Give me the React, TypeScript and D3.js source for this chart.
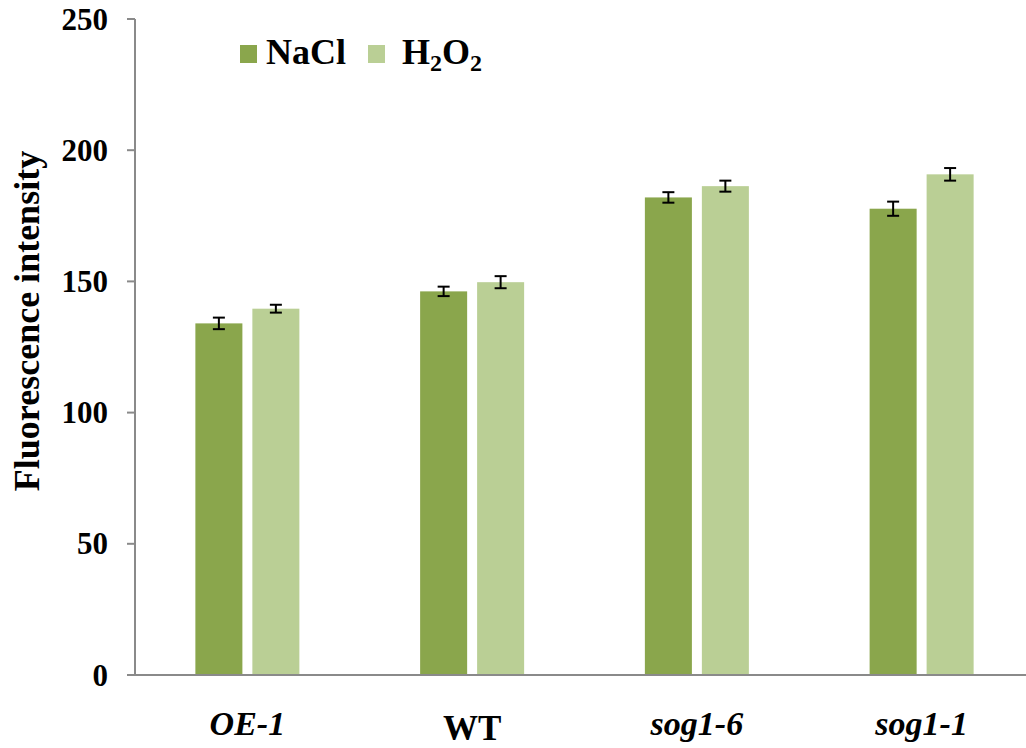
import * as d3 from "d3";

const categories = ["OE-1", "WT", "sog1-6", "sog1-1"];
const series = ["NaCl", "H2O2"];
const naclValues = [134.0, 146.2, 182.0, 177.7];
const h2o2Values = [139.6, 149.7, 186.3, 190.8];
const naclErrors = [2.2, 1.8, 2.0, 2.7];
const h2o2Errors = [1.5, 2.3, 2.1, 2.4];
const yTicks = [0, 50, 100, 150, 200, 250];

const colors = ["#8aa64c", "#bacf95"];
const serif = "'Liberation Serif', 'Times New Roman', serif";

const App = () => {
  const width = 1026;
  const height = 748;

  const y = d3.scaleLinear().domain([0, 250]).range([675, 19]);
  const x0 = d3.scaleBand().domain(categories).range([135, 1034]);
  const bw = x0.bandwidth();
  const x1 = d3
    .scaleBand()
    .domain(series)
    .range([bw / 2 - 52, bw / 2 + 52])
    .paddingInner(0.175);

  const values = [naclValues, h2o2Values];
  const errors = [naclErrors, h2o2Errors];

  // flatten into bar records
  const bars = categories.flatMap((c, i) =>
    series.map((s, j) => ({
      cat: c,
      ser: s,
      value: values[j][i],
      err: errors[j][i],
      color: colors[j],
    }))
  );

  const axisColor = "#8a8a8a";

  return (
    <svg
      width={width}
      height={height}
      style={{ position: "absolute", left: 0, top: 0, background: "#fff" }}
    >
      {/* bars */}
      {bars.map((d) => {
        const bx = x0(d.cat)! + x1(d.ser)!;
        return (
          <rect
            key={d.cat + d.ser}
            x={bx}
            y={y(d.value)}
            width={x1.bandwidth()}
            height={y(0) - y(d.value)}
            fill={d.color}
          />
        );
      })}

      {/* error bars */}
      {bars.map((d) => {
        const cx = x0(d.cat)! + x1(d.ser)! + x1.bandwidth() / 2;
        const top = y(d.value + d.err);
        const bot = y(d.value - d.err);
        return (
          <g key={"e" + d.cat + d.ser} stroke="#000" strokeWidth={2}>
            <line x1={cx} x2={cx} y1={top} y2={bot} />
            <line x1={cx - 6} x2={cx + 6} y1={top} y2={top} />
            <line x1={cx - 6} x2={cx + 6} y1={bot} y2={bot} />
          </g>
        );
      })}

      {/* y axis */}
      <line x1={135} x2={135} y1={y(250)} y2={y(0)} stroke={axisColor} strokeWidth={2} />
      {yTicks.map((t) => (
        <g key={t}>
          <line x1={127} x2={135} y1={y(t)} y2={y(t)} stroke={axisColor} strokeWidth={2} />
          <text
            x={108}
            y={y(t)}
            textAnchor="end"
            dominantBaseline="central"
            fontFamily={serif}
            fontWeight="bold"
            fontSize={31}
            fill="#000"
          >
            {t}
          </text>
        </g>
      ))}

      {/* x axis */}
      <line x1={127} x2={width} y1={y(0)} y2={y(0)} stroke={axisColor} strokeWidth={2} />
      {categories.map((c) => {
        const plain = c === "WT";
        return (
          <text
            key={c}
            x={x0(c)! + bw / 2}
            y={plain ? 740 : 735}
            textAnchor="middle"
            fontFamily={serif}
            fontWeight="bold"
            fontStyle={plain ? "normal" : "italic"}
            fontSize={plain ? 35 : 34}
            fill="#000"
          >
            {c}
          </text>
        );
      })}

      {/* y title */}
      <text
        transform={`translate(39, 321) rotate(-90)`}
        textAnchor="middle"
        fontFamily={serif}
        fontWeight="bold"
        fontSize={36}
        fill="#000"
      >
        Fluorescence intensity
      </text>

      {/* legend */}
      {series.map((s, j) => {
        const lx = j === 0 ? 240 : 368;
        return (
          <g key={s}>
            <rect x={lx} y={45} width={17} height={18} fill={colors[j]} />
            <text
              x={lx + (j === 0 ? 26 : 34)}
              y={64}
              fontFamily={serif}
              fontWeight="bold"
              fontSize={36}
              fill="#000"
            >
              {s === "H2O2" ? (
                <>
                  H<tspan fontSize={24} dy={7}>2</tspan>
                  <tspan dy={-7}>O</tspan>
                  <tspan fontSize={24} dy={7}>2</tspan>
                </>
              ) : (
                s
              )}
            </text>
          </g>
        );
      })}
    </svg>
  );
};

export default App;
